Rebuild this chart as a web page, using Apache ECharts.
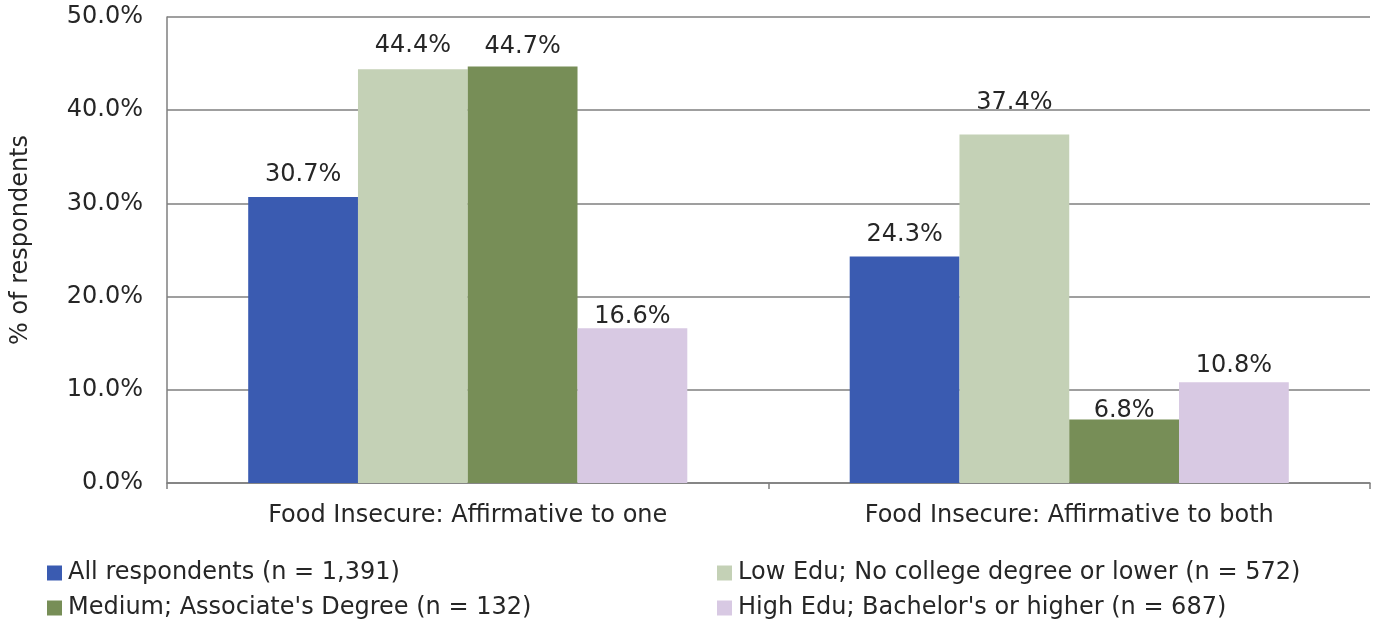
<!DOCTYPE html>
<html>
<head>
<meta charset="utf-8">
<script src="https://cdn.jsdelivr.net/npm/echarts@6/dist/echarts.min.js"></script>
<style>
html,body{margin:0;padding:0;background:#fff;}
#chart{width:1380px;height:625px;}
</style>
</head>
<body>
<div id="chart"></div>
<script>
var categories = ['Food Insecure: Affirmative to one', 'Food Insecure: Affirmative to both'];
var seriesNames = ['All respondents (n = 1,391)', 'Low Edu; No college degree or lower (n = 572)', 'Medium; Associate\'s Degree (n = 132)', 'High Edu; Bachelor\'s or higher (n = 687)'];
var allResp = [30.7, 24.3];
var lowEdu = [44.4, 37.4];
var mediumEdu = [44.7, 6.8];
var highEdu = [16.6, 10.8];
var yTicks = [0, 10, 20, 30, 40, 50];

// styling only: gap between each bar top and its value label, as placed in the original
var labelGaps = [[10, 10], [11, 20], [8, -3], [0, 5]];

var colors = ['#3a5bb1', '#c4d1b6', '#778e57', '#d8c9e3'];
var values = [allResp, lowEdu, mediumEdu, highEdu];
var mainFont = '"DejaVu Sans"';
var textColor = '#262626';
var fs = 24;

var chart = echarts.init(document.getElementById('chart'));
var series = seriesNames.map(function (name, i) {
  return {
    name: name,
    type: 'bar',
    data: values[i].map(function (v, j) {
      return { value: v, label: { distance: labelGaps[i][j] } };
    }),
    barGap: '0%',
    barCategoryGap: '27%',
    itemStyle: { color: colors[i] },
    label: {
      show: true,
      position: 'top',
      fontFamily: mainFont,
      fontSize: fs,
      color: textColor,
      formatter: function (p) { return p.value.toFixed(1) + '%'; }
    }
  };
});

var legendPos = [[42, 556], [712, 556], [42, 591], [712, 591]];
var legends = seriesNames.map(function (name, i) {
  return {
    data: [name],
    left: legendPos[i][0], top: legendPos[i][1],
    itemWidth: 15, itemHeight: 15, itemGap: 0, icon: 'rect',
    textStyle: { fontFamily: mainFont, fontSize: fs, color: textColor, padding: [0, 0, 0, 1] }
  };
});

chart.setOption({
  animation: false,
  color: colors,
  grid: { left: 167, right: 10, top: 17, bottom: 142, containLabel: false },
  legend: legends,
  xAxis: {
    type: 'category',
    data: categories,
    axisLine: { lineStyle: { color: '#7f7f7f', width: 1.5 } },
    axisTick: { show: true, length: 6, lineStyle: { color: '#7f7f7f', width: 1.5 } },
    axisLabel: { fontFamily: mainFont, fontSize: fs, color: textColor, margin: 21 }
  },
  yAxis: {
    type: 'value',
    min: yTicks[0], max: yTicks[yTicks.length - 1], interval: 10,
    name: '% of respondents',
    nameLocation: 'middle',
    nameGap: 134,
    nameRotate: 90,
    nameTextStyle: { fontFamily: mainFont, fontSize: fs, color: textColor, padding: [0, 0, 0, 20] },
    axisLine: { show: true, lineStyle: { color: '#7f7f7f', width: 1.5 } },
    axisTick: { show: false },
    splitLine: { lineStyle: { color: '#7f7f7f', width: 1.5 } },
    axisLabel: {
      fontFamily: mainFont, fontSize: fs, color: textColor, margin: 24,
      formatter: function (v) { return v.toFixed(1) + '%'; }
    }
  },
  series: series
});
</script>
</body>
</html>
